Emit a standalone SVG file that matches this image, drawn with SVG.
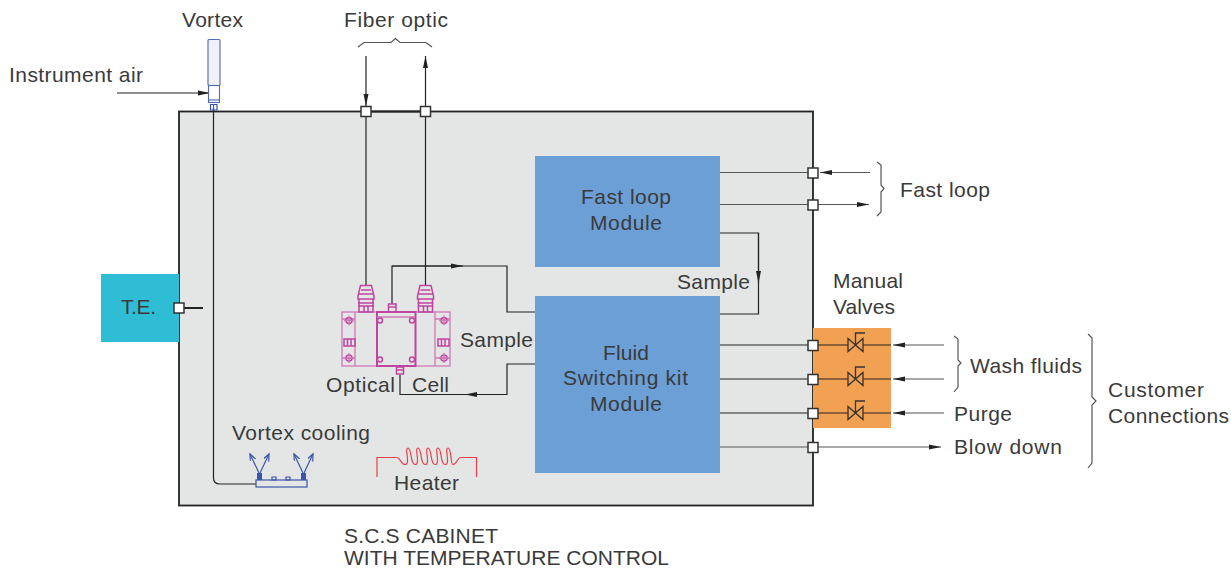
<svg xmlns="http://www.w3.org/2000/svg" width="1231" height="569" viewBox="0 0 1231 569">
<defs>
<marker id="arr" markerUnits="userSpaceOnUse" markerWidth="14" markerHeight="8" refX="12" refY="3" orient="auto"><path d="M0 0.5L12 3L0 5.5Z" fill="#222"/></marker>
<marker id="arrb" markerUnits="userSpaceOnUse" markerWidth="10" markerHeight="10" refX="7" refY="3" orient="auto"><path d="M0 0L7 3L0 6" fill="none" stroke="#3b55a8" stroke-width="1.2"/></marker>
</defs>
<style>
text{font-family:"Liberation Sans",Arial,sans-serif;font-size:21px;fill:#3a3a3a}
.c{fill:none;stroke:#222;stroke-width:1.2}
.t{fill:none;stroke:#222;stroke-width:2}
.g{fill:none;stroke:#555;stroke-width:1.2}
.p{fill:#fff;stroke:#333;stroke-width:1.5}
.m{fill:none;stroke:#bf45a0;stroke-width:1.5}
.ml{fill:none;stroke:#cf78b8;stroke-width:1.3}
.b{fill:none;stroke:#3b55a8;stroke-width:1.2}
.v{fill:none;stroke:#333;stroke-width:1.3}
</style>
<g id="cabinet"><rect x="179" y="111.500" width="634" height="394" fill="#e4e6e5" stroke="#222" stroke-width="1.800"/></g>
<g id="te"><rect x="101" y="274" width="78" height="68" fill="#2fbdd6"/><text x="121" y="314" textLength="35">T.E.</text></g>
<g id="valves-bg"><rect x="813" y="328" width="78" height="100" fill="#f2a052"/></g>
<g id="fast-loop-module"><rect x="535" y="156" width="185" height="111" fill="#6b9fd6"/><text x="581" y="204" textLength="90">Fast loop</text><text x="590" y="230" textLength="72">Module</text></g>
<g id="fluid-module"><rect x="535" y="296" width="185" height="177" fill="#6b9fd6"/><text x="603" y="360" textLength="46">Fluid</text><text x="563" y="385" textLength="125">Switching kit</text><text x="590" y="411" textLength="72">Module</text></g>
<g id="connectors">
<path class="c" d="M117 93H210" marker-end="url(#arr)"/>
<path class="c" d="M213.500 108V478Q213.500 484 220 484H256"/>
<path class="c" d="M366 56V106" marker-end="url(#arr)"/>
<path class="c" d="M425.500 117V56" marker-end="url(#arr)"/>
<path class="t" d="M366 111.500H425"/>
<path class="c" d="M366 111V285M425.500 111V285"/>
<path class="c" d="M392 304V266H507V312H535"/>
<path class="c" d="M392 266H463" marker-end="url(#arr)"/>
<path class="c" d="M400 375V394.500H507V364H535"/>
<path class="c" d="M507 394.500H465" marker-end="url(#arr)"/>
<path class="c" d="M720 233H758.500V314H720"/>
<path class="c" d="M758.500 233V283" marker-end="url(#arr)"/>
<path class="g" d="M720 172.500H813M720 204.500H813"/>
<path class="g" d="M870 172.500H820" marker-end="url(#arr)"/>
<path class="g" d="M813 204.500H869" marker-end="url(#arr)"/>
<path class="c" d="M720 345H848M863 345H891M720 379H848M863 379H891M720 413H848M863 413H891"/>
<path class="g" d="M944 345H893" marker-end="url(#arr)"/>
<path class="g" d="M944 379H893" marker-end="url(#arr)"/>
<path class="g" d="M944 413H893" marker-end="url(#arr)"/>
<path class="g" d="M720 447H941" marker-end="url(#arr)"/>
<path class="t" d="M179 308H203"/>
</g>
<g id="ports">
<rect class="p" x="361" y="106.500" width="10" height="10"/><rect class="p" x="420.500" y="106.500" width="10" height="10"/>
<rect class="p" x="808" y="168" width="10" height="10"/><rect class="p" x="808" y="200" width="10" height="10"/>
<rect class="p" x="808" y="340.500" width="10" height="10"/><rect class="p" x="808" y="374.500" width="10" height="10"/><rect class="p" x="808" y="408.500" width="10" height="10"/><rect class="p" x="808" y="442.500" width="10" height="10"/>
<rect class="p" x="174" y="303" width="10" height="10"/>
</g>
<g id="manual-valves">
<path class="v" d="M848 338.500L863 351.500V338.500L848 351.500ZM855.500 345V333H865M848 372.500L863 385.500V372.500L848 385.500ZM855.500 379V367H865M848 406.500L863 419.500V406.500L848 419.500ZM855.500 413V401H865"/>
</g>
<g id="vortex">
<rect x="208" y="39.500" width="12" height="46" rx="1" fill="#f0f2f8" stroke="#5269b5" stroke-width="1.100"/>
<rect x="208.500" y="85.500" width="11" height="17" fill="#fff" stroke="#5269b5" stroke-width="1.100"/>
<path class="b" d="M208.500 100H219.500M210.500 104.500H217V110H210.500ZM213.500 104.500V110"/>
</g>
<g id="vortex-cooling">
<rect class="b" x="256" y="480" width="51" height="7"/>
<path class="b" d="M272 477h4v3h-4zM286 477h4v3h-4z"/>
<path d="M257 480V473H262V480ZM301 480V473H306V480Z" fill="#3b55a8"/>
<path class="b" d="M259 473L250 454" marker-end="url(#arrb)"/><path class="b" d="M260 473L269 454" marker-end="url(#arrb)"/>
<path class="b" d="M303 473L294 454" marker-end="url(#arrb)"/><path class="b" d="M304 473L313 454" marker-end="url(#arrb)"/>
</g>
<g id="heater">
<path d="M377 477V457.500H397C400 457.500 401 464.500 405 464.500C411 464.500 404 448 408 448C412 448 410 464.500 415 464.500C421 464.500 414 448 418 448C422 448 420 464.500 425 464.500C431 464.500 424 448 428 448C432 448 430 464.500 435 464.500C441 464.500 434 448 438 448C442 448 440 464.500 445 464.500C451 464.500 444 448 448 448C452 448 450 464.500 453 464.500C457 464.500 457 457.500 461 457.500H476.500V477" fill="none" stroke="#e6404a" stroke-width="1.200"/>
</g>
<g id="optical-cell">
<rect class="ml" x="342" y="312" width="108" height="54"/>
<path class="ml" d="M355 312V366M435 312V366M342 319H355M435 319H450M342 358H355M435 358H450"/>
<rect x="377" y="312" width="38.500" height="54" fill="none" stroke="#bf45a0" stroke-width="2"/>
<path class="ml" d="M377 317H415"/>
<circle class="m" cx="380" cy="320.500" r="2.500"/><circle class="m" cx="412" cy="320.500" r="2.500"/><circle class="m" cx="380" cy="359.500" r="2.500"/><circle class="m" cx="412" cy="359.500" r="2.500"/>
<g id="cell-bolts">
<circle class="m" cx="349" cy="320.500" r="3"/><path class="ml" d="M344 320.500H354M349 315.500V325.500"/>
<circle class="m" cx="349" cy="358" r="3"/><path class="ml" d="M344 358H354M349 353V363"/>
<circle class="m" cx="444" cy="320.500" r="3"/><path class="ml" d="M439 320.500H449M444 315.500V325.500"/>
<circle class="m" cx="444" cy="358" r="3"/><path class="ml" d="M439 358H449M444 353V363"/>
<rect class="m" x="344" y="339" width="11" height="7"/><path class="m" d="M347.500 339V346M351 339V346"/>
<rect class="m" x="438" y="339" width="11" height="7"/><path class="m" d="M441.500 339V346M445 339V346"/>
</g>
<path class="m" d="M360.500 285.500H371.500L374 296V299H358V296ZM359 299H373V312H359ZM358 294H374M358 303H374M358 306H374M364 306V312M368 306V312M361 290H371"/>
<path class="m" d="M420 285.500H431L433.500 296V299H417.500V296ZM418.500 299H432.500V312H418.500ZM417.500 294H433.500M417.500 303H433.500M417.500 306H433.500M423.500 306V312M427.500 306V312M420.500 290H430.500"/>
<rect class="m" x="388.500" y="304" width="7.500" height="8"/><path class="m" d="M388.500 307H396"/>
<rect class="m" x="396.500" y="367" width="7" height="7"/><path class="m" d="M396.500 370H403.500"/>
</g>
<g id="braces">
<path class="g" d="M358 47L364 42.500H391L395.500 38.500L400 42.500H426L432 47"/>
<path class="g" d="M877 162L881 165V185L884 188.500L881 192V212L877 216"/>
<path class="g" d="M954 336L958 339V360L961 363L958 366V387L954 392"/>
<path class="g" d="M1088 334L1092 338V397L1096 401L1092 405V463L1088 468"/>
</g>
<g id="labels">
<text x="182" y="27" textLength="61">Vortex</text>
<text x="344" y="27" textLength="104">Fiber optic</text>
<text x="9" y="82" textLength="134">Instrument air</text>
<text x="900" y="197" textLength="90">Fast loop</text>
<text x="677" y="289" textLength="73">Sample</text>
<text x="833" y="288" textLength="70">Manual</text>
<text x="833" y="314" textLength="62">Valves</text>
<text x="460" y="347" textLength="73">Sample</text>
<text x="326" y="392" textLength="69">Optical</text>
<text x="412" y="392" textLength="37">Cell</text>
<text x="970" y="373" textLength="112">Wash fluids</text>
<text x="954" y="421" textLength="58">Purge</text>
<text x="954" y="454" textLength="108">Blow down</text>
<text x="1108" y="397" textLength="96">Customer</text>
<text x="1108" y="423" textLength="121">Connections</text>
<text x="232" y="440" textLength="138">Vortex cooling</text>
<text x="394" y="490" textLength="65">Heater</text>
<text x="344" y="543" textLength="154">S.C.S CABINET</text>
<text x="344" y="564.500" textLength="325">WITH TEMPERATURE CONTROL</text>
</g>
</svg>
